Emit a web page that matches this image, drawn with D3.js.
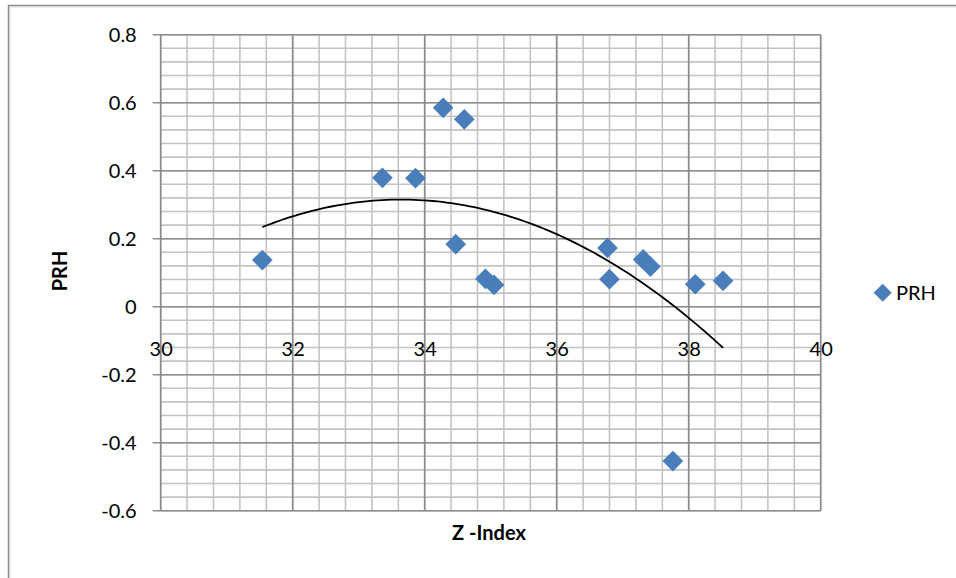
<!DOCTYPE html>
<html>
<head>
<meta charset="utf-8">
<script src="https://cdn.jsdelivr.net/npm/d3@7"></script>
<style>
  body { margin: 0; background: #fff; }
  text { font-family: Lato, "Open Sans", sans-serif; fill: #000; }
</style>
</head>
<body>
<div id="chart"></div>
<script>
// Z-Index vs PRH scatter with 2nd order trend

var zIndex = [31.54, 33.36, 33.86, 34.28, 34.60, 34.47, 34.92, 35.05, 36.77, 36.80, 37.31, 37.42, 38.10, 38.52, 37.76];
var prh    = [0.137, 0.379, 0.378, 0.585, 0.551, 0.184, 0.082, 0.064, 0.173, 0.081, 0.139, 0.118, 0.066, 0.076, -0.454];
var xTicks = [30, 32, 34, 36, 38, 40];
var yTicks = [0.8, 0.6, 0.4, 0.2, 0, -0.2, -0.4, -0.6];
var seriesName = "PRH";

var svgWidth = 956;
var svgHeight = 578;

var plot = { left: 160.7, top: 34.7, right: 820.7, bottom: 510.7 };

var svg = d3.select("#chart")
  .append("svg")
  .attr("width", svgWidth)
  .attr("height", svgHeight);

var data = zIndex.map(function(z, i) { return { x: z, y: prh[i] }; });

var xScale = d3.scaleLinear()
  .domain([30, 40])
  .range([plot.left, plot.right]);

var yScale = d3.scaleLinear()
  .domain([-0.6, 0.8])
  .range([plot.bottom, plot.top]);

// outer frame (top and left edges visible)
svg.append("path")
  .attr("d", "M8.5,578 V5.5 H956")
  .attr("fill", "none")
  .attr("stroke", "#8a8a8a")
  .attr("stroke-width", 1.5);
svg.append("path")
  .attr("d", "M10,578 V7 H956")
  .attr("fill", "none")
  .attr("stroke", "#d9d9d9")
  .attr("stroke-width", 1);

// minor grid
var minorX = d3.range(30, 40.001, 0.4);
var minorY = d3.range(-0.6, 0.8001, 0.04);
var grid = svg.append("g");

grid.selectAll(".mx")
  .data(minorX)
  .enter()
  .append("line")
  .attr("x1", function(d) { return xScale(d); })
  .attr("x2", function(d) { return xScale(d); })
  .attr("y1", plot.top)
  .attr("y2", plot.bottom)
  .attr("stroke", "#c3c3c3")
  .attr("stroke-width", 1.6);

grid.selectAll(".my")
  .data(minorY)
  .enter()
  .append("line")
  .attr("x1", plot.left)
  .attr("x2", plot.right)
  .attr("y1", function(d) { return yScale(d); })
  .attr("y2", function(d) { return yScale(d); })
  .attr("stroke", "#c3c3c3")
  .attr("stroke-width", 1.6);

// major grid
grid.selectAll(".Mx")
  .data(xTicks)
  .enter()
  .append("line")
  .attr("x1", function(d) { return xScale(d); })
  .attr("x2", function(d) { return xScale(d); })
  .attr("y1", plot.top)
  .attr("y2", plot.bottom)
  .attr("stroke", "#8c8c8c")
  .attr("stroke-width", 1.6);

grid.selectAll(".My")
  .data(yTicks)
  .enter()
  .append("line")
  .attr("x1", plot.left - 8)
  .attr("x2", plot.right)
  .attr("y1", function(d) { return yScale(d); })
  .attr("y2", function(d) { return yScale(d); })
  .attr("stroke", "#8c8c8c")
  .attr("stroke-width", 1.6);

// y axis labels (plain hyphen for negatives)
var leftAxis = d3.axisLeft(yScale)
  .tickValues(yTicks)
  .tickSize(0)
  .tickPadding(24)
  .tickFormat(function(d) { return String(Math.round(d * 10) / 10); });

svg.append("g")
  .attr("transform", `translate(${plot.left}, 0)`)
  .call(leftAxis)
  .call(function(g) { g.select(".domain").remove(); })
  .attr("font-size", "20px")
  .attr("font-family", "Lato, sans-serif");

// x axis labels (axis crosses at 0)
var bottomAxis = d3.axisBottom(xScale)
  .tickValues(xTicks)
  .tickSize(0)
  .tickPadding(35);

svg.append("g")
  .attr("transform", `translate(0, ${yScale(0)})`)
  .call(bottomAxis)
  .call(function(g) { g.select(".domain").remove(); })
  .attr("font-size", "20px")
  .attr("font-family", "Lato, sans-serif");

svg.selectAll(".tick text").attr("fill", "#000");

// axis titles
svg.append("text")
  .attr("x", 489)
  .attr("y", 540)
  .attr("text-anchor", "middle")
  .attr("font-size", "20px")
  .attr("font-weight", "bold")
  .text("Z -Index");

svg.append("text")
  .attr("transform", "translate(67, 271) rotate(-90)")
  .attr("text-anchor", "middle")
  .attr("font-size", "20px")
  .attr("font-weight", "bold")
  .text("PRH");

// points
var diamond = d3.symbol().type(d3.symbolSquare).size(214);

svg.append("g")
  .selectAll("path")
  .data(data)
  .enter()
  .append("path")
  .attr("d", diamond)
  .attr("transform", function(d) { return `translate(${xScale(d.x)}, ${yScale(d.y)}) rotate(45)`; })
  .attr("fill", "#4a7ebb");

// polynomial (order 2) trendline, least squares fit of the points
function quadFit(pts) {
  var s = [0, 0, 0, 0, 0], t = [0, 0, 0];
  pts.forEach(function(p) {
    for (var k = 0; k < 5; k++) s[k] += Math.pow(p.x, k);
    for (var k = 0; k < 3; k++) t[k] += p.y * Math.pow(p.x, k);
  });
  var m = [[s[0], s[1], s[2], t[0]], [s[1], s[2], s[3], t[1]], [s[2], s[3], s[4], t[2]]];
  for (var i = 0; i < 3; i++) {
    for (var j = i + 1; j < 3; j++) {
      var f = m[j][i] / m[i][i];
      for (var k = i; k < 4; k++) m[j][k] -= f * m[i][k];
    }
  }
  var c = [0, 0, 0];
  for (var i = 2; i >= 0; i--) {
    var v = m[i][3];
    for (var k = i + 1; k < 3; k++) v -= m[i][k] * c[k];
    c[i] = v / m[i][i];
  }
  return c;
}

var coef = quadFit(data);
var xMin = d3.min(zIndex), xMax = d3.max(zIndex);
var trend = d3.range(0, 101).map(function(i) {
  var x = xMin + (xMax - xMin) * i / 100;
  return { x: x, y: coef[0] + coef[1] * x + coef[2] * x * x };
});

svg.append("path")
  .datum(trend)
  .attr("d", d3.line()
    .x(function(d) { return xScale(d.x); })
    .y(function(d) { return yScale(d.y); }))
  .attr("fill", "none")
  .attr("stroke", "#000")
  .attr("stroke-width", 1.8);

// legend
svg.append("path")
  .attr("d", d3.symbol().type(d3.symbolSquare).size(162))
  .attr("transform", "translate(882.7, 292.7) rotate(45)")
  .attr("fill", "#4a7ebb");

svg.append("text")
  .attr("x", 896)
  .attr("y", 300)
  .attr("font-size", "20px")
  .text(seriesName);
</script>
</body>
</html>
